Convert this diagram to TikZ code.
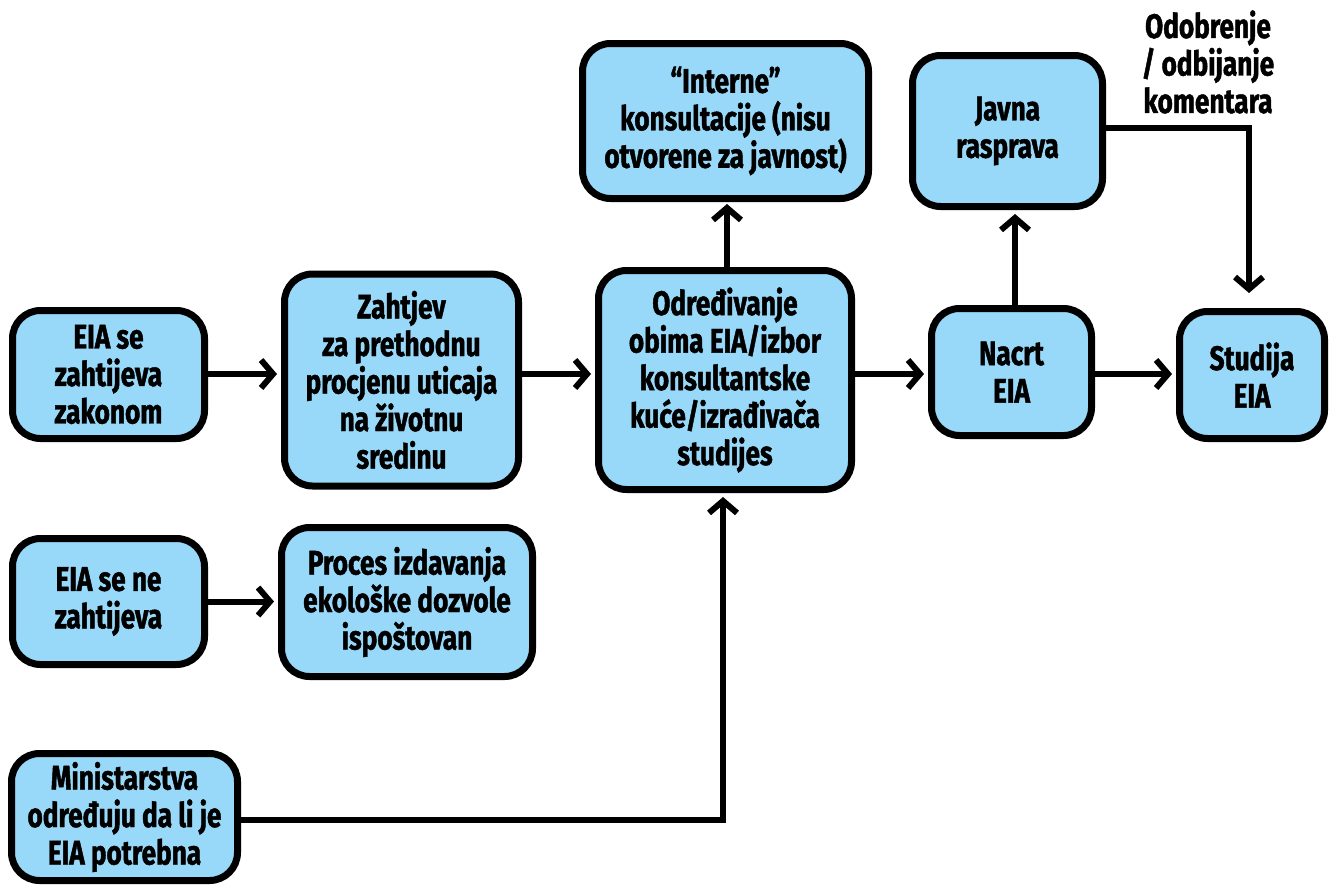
\documentclass[tikz,border=0pt]{standalone}
\usepackage{fontspec}
\setmainfont{Fira Sans}[FakeStretch=0.77, BoldFeatures={FakeBold=1.3}]
\usetikzlibrary{arrows.meta}
\definecolor{boxblue}{RGB}{152,216,248}
\tikzset{
  stepbox/.style={draw=black, fill=boxblue, line width=7pt, rounded corners=28pt,
    inner sep=0pt, align=center, font=\fontsize{34}{37.5}\selectfont\bfseries},
  link/.style={line width=6pt, -{Straight Barb[length=12pt,width=28pt]}},
  note/.style={align=center, inner sep=0pt, font=\fontsize{34}{37.5}\selectfont\bfseries}
}
\begin{document}
\begin{tikzpicture}[x=1pt,y=-1pt]
\useasboundingbox (0,0) rectangle (1336,886);
% process boxes
\node[stepbox, minimum width=192pt, minimum height=128pt] (req) at (108.5,374.5) {EIA se\\zahtijeva\\zakonom};
\node[stepbox, minimum width=234pt, minimum height=212pt] (pre) at (401.5,380) {Zahtjev\\za prethodnu\\procjenu uticaja\\na životnu\\sredinu};
\node[stepbox, minimum width=253pt, minimum height=219pt] (scope) at (725,380) {Određivanje\\obima EIA/izbor\\konsultantske\\kuće/izrađivača\\studijes};
\node[stepbox, minimum width=286pt, minimum height=155pt] (int) at (725.5,121) {“Interne”\\konsultacije (nisu\\otvorene za javnost)};
\node[stepbox, minimum width=190pt, minimum height=151pt] (pub) at (1007.5,131) {Javna\\rasprava};
\node[stepbox, minimum width=160pt, minimum height=127pt] (draft) at (1011.5,372) {Nacrt\\EIA};
\node[stepbox, minimum width=145pt, minimum height=127pt] (study) at (1252,375) {Studija\\EIA};
\node[stepbox, minimum width=192pt, minimum height=126pt] (noreq) at (108.5,601.5) {EIA se ne\\zahtijeva};
\node[stepbox, minimum width=251pt, minimum height=149pt] (permit) at (407,602) {Proces izdavanja\\ekološke dozvole\\ispoštovan};
\node[stepbox, minimum width=226pt, minimum height=127pt] (min) at (124.5,817) {Ministarstva\\određuju da li je\\EIA potrebna};
% free-standing label
\node[note] (approve) at (1208,62) {Odobrenje\\/ odbijanje\\komentara};
% helper points
\coordinate (row) at (0,374);
\coordinate (pubout) at (0,128);
\coordinate (drop) at (1249,293);
\coordinate (minout) at (0,820);
% connectors
\draw[link, shorten >=4pt] (req.east |- row) -- (pre.west |- row);
\draw[link, shorten >=4pt] (pre.east |- row) -- (scope.west |- row);
\draw[link, shorten >=4pt] (scope.east |- row) -- (draft.west |- row);
\draw[link, shorten >=4pt] (draft.east |- row) -- (study.west |- row);
\draw[link, shorten >=4pt] (noreq.east) -- (permit.west |- noreq.east);
\draw[link, shorten >=2pt] (scope.north -| 727,0) -- (int.south -| 727,0);
\draw[link, shorten >=4pt] (draft.north -| 1015,0) -- (pub.south -| 1015,0);
\draw[link] (pub.east |- pubout) -| (drop);
\draw[link, shorten >=4pt] (min.east |- minout) -| (scope.south -| 723,0);
\end{tikzpicture}
\end{document}
